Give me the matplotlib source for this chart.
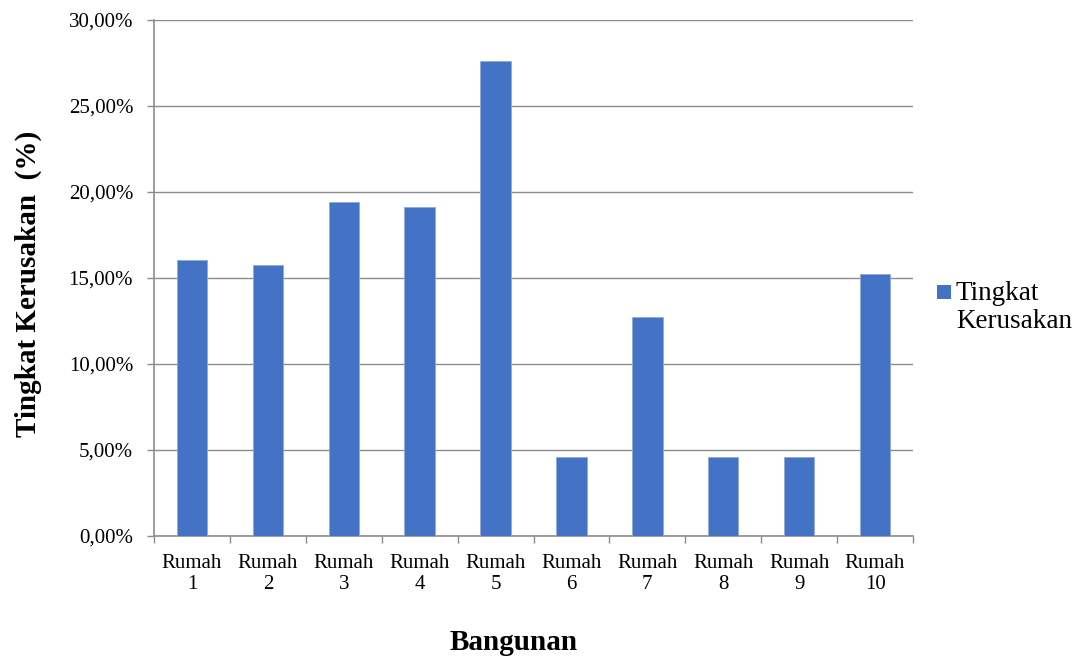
import matplotlib
matplotlib.use("Agg")
import matplotlib.pyplot as plt
from matplotlib.ticker import FuncFormatter, FixedLocator
from matplotlib.patches import Rectangle

categories = ["Rumah\n1", "Rumah\n2", "Rumah\n3", "Rumah\n4", "Rumah\n5",
              "Rumah\n6", "Rumah\n7", "Rumah\n8", "Rumah\n9", "Rumah\n10"]
values = [16.05, 15.74, 19.40, 19.11, 27.62, 4.61, 12.73, 4.61, 4.61, 15.21]
series_name = "Tingkat\nKerusakan"
y_ticks = [0, 5, 10, 15, 20, 25, 30]

plt.rcParams['font.family'] = ['Liberation Serif', 'DejaVu Serif']

fig = plt.figure(figsize=(10.81, 6.61), dpi=100)
W, H = 1081, 661
ax = fig.add_axes([154 / W, (H - 536) / H, (913 - 154) / W, (536 - 20) / H])

x = list(range(len(categories)))
bar_color = "#4472C4"
ax.bar(x, values, width=0.4, color=bar_color, edgecolor="#8EA9DB", linewidth=0.6, zorder=3)

ax.set_xlim(-0.5, len(categories) - 0.5)
ax.set_ylim(0, 30)
ax.yaxis.set_major_locator(FixedLocator(y_ticks))
ax.yaxis.set_major_formatter(FuncFormatter(lambda v, p: f"{v:.2f}".replace(".", ",") + "%"))
ax.grid(axis="y", color="#8c8c8c", linewidth=1.0, zorder=0)

ax.set_xticks(x)
ax.set_xticklabels(categories, fontsize=15, linespacing=1.15)
ax.set_xticks([i + 0.5 for i in range(-1, len(categories))], minor=True)
ax.tick_params(axis="x", which="major", length=0, pad=13)
ax.tick_params(axis="x", which="minor", length=5, color="#8c8c8c", width=1)
ax.tick_params(axis="y", length=5, color="#8c8c8c", width=1, labelsize=15, pad=10)

for s in ["top", "right"]:
    ax.spines[s].set_visible(False)
for s in ["left", "bottom"]:
    ax.spines[s].set_color("#8c8c8c")
    ax.spines[s].set_linewidth(1.2)

fig.text(28 / W, 1 - 284 / H, "Tingkat Kerusakan  (%)", rotation=90, fontsize=21,
         fontweight="bold", ha="center", va="center")
fig.text(514 / W, 1 - 643 / H, "Bangunan", fontsize=21, fontweight="bold",
         ha="center", va="center")

# legend
fig.patches.append(Rectangle((937 / W, 1 - 299 / H), 14 / W, 14 / H,
                             transform=fig.transFigure, facecolor=bar_color,
                             edgecolor="none", figure=fig))
fig.text(956 / W, 1 - 281 / H, series_name, fontsize=19.5, ha="left", va="top",
         linespacing=1.15)

fig.savefig("out.png", dpi=100)
